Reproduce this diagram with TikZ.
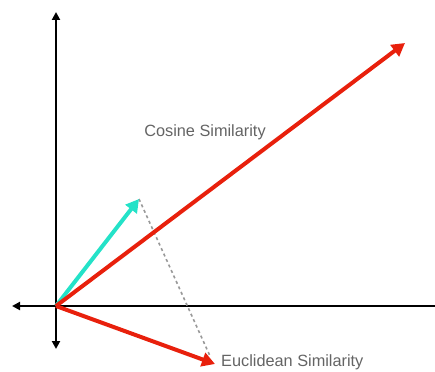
\documentclass[tikz,border=0pt]{standalone}
\usepackage{fontspec}
\setmainfont{Liberation Sans}
\usetikzlibrary{arrows.meta}
\definecolor{vred}{RGB}{232,32,12}
\definecolor{vteal}{RGB}{36,226,200}
\definecolor{lbl}{RGB}{100,100,100}
\tikzset{
  axis/.style={line width=2.3pt,-{Triangle[length=8pt,width=8pt]}},
  vec/.style={line width=4pt,-{Triangle[length=13pt,width=14pt]}},
  lab/.style={text=lbl,font=\fontsize{16.3}{18}\selectfont,inner sep=0pt}
}
\begin{document}
\begin{tikzpicture}[x=1pt,y=-1pt]
\useasboundingbox (0,0) rectangle (435,371);
\coordinate (O) at (56,306);
\coordinate (top) at (56,12);
\coordinate (bot) at (56,349);
\coordinate (left) at (12,306);
\coordinate (right) at (435,306);
\coordinate (t) at (139,199);
\coordinate (r) at (405,43);
\coordinate (d) at (215,364);
\coordinate (dotend) at (210,356);
\draw[axis] (O) -- (top);
\draw[axis] (O) -- (bot);
\draw[axis] (O) -- (left);
\draw[line width=2.3pt] (O) -- (right);
\draw[line width=1.6pt,gray!80,dash pattern=on 3pt off 3pt] (t) -- (dotend);
\draw[vec,vteal] (O) -- (t);
\draw[vec,vred] (O) -- (r);
\draw[vec,vred] (O) -- (d);
\node[lab] (cos) at (205,132) {Cosine Similarity};
\node[lab,anchor=west] (euc) at (221,362) {Euclidean Similarity};
\end{tikzpicture}
\end{document}
